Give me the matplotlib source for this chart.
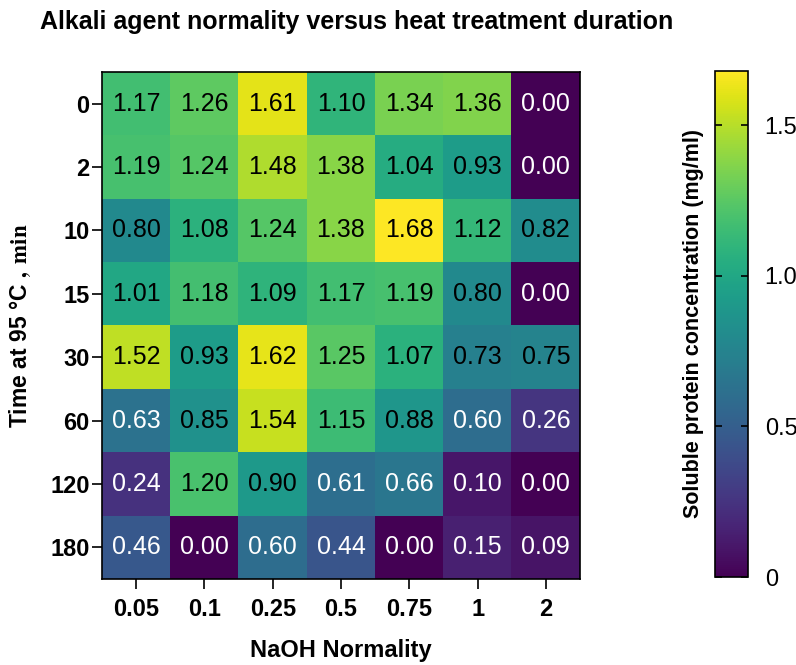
import numpy as np
import matplotlib
matplotlib.use("Agg")
import matplotlib.pyplot as plt

plt.rcParams["font.family"] = ["Liberation Sans", "DejaVu Sans"]
plt.rcParams["mathtext.fontset"] = "stix"

normality = ["0.05", "0.1", "0.25", "0.5", "0.75", "1", "2"]
times = ["0", "2", "10", "15", "30", "60", "120", "180"]

protein = np.array([
    [1.17, 1.26, 1.61, 1.10, 1.34, 1.36, 0.00],
    [1.19, 1.24, 1.48, 1.38, 1.04, 0.93, 0.00],
    [0.80, 1.08, 1.24, 1.38, 1.68, 1.12, 0.82],
    [1.01, 1.18, 1.09, 1.17, 1.19, 0.80, 0.00],
    [1.52, 0.93, 1.62, 1.25, 1.07, 0.73, 0.75],
    [0.63, 0.85, 1.54, 1.15, 0.88, 0.60, 0.26],
    [0.24, 1.20, 0.90, 0.61, 0.66, 0.10, 0.00],
    [0.46, 0.00, 0.60, 0.44, 0.00, 0.15, 0.09],
])

W, H = 796, 665
fig = plt.figure(figsize=(W / 100, H / 100), dpi=100)
ax = fig.add_axes([102 / W, 1 - 579 / H, 478 / W, 507 / H])
cax = fig.add_axes([715 / W, 1 - 577 / H, 33 / W, 506 / H])

im = ax.imshow(protein, cmap="viridis", vmin=0, vmax=protein.max(), aspect="auto")

for i in range(len(times)):
    for j in range(len(normality)):
        v = protein[i, j]
        ax.text(j, i, f"{v:.2f}", ha="center", va="center", fontsize=18,
                color="white" if v < 0.7 else "black")

ax.set_xticks(range(len(normality)))
ax.set_xticklabels(normality, fontsize=17, fontweight="bold")
ax.set_yticks(range(len(times)))
ax.set_yticklabels(times, fontsize=17, fontweight="bold")
ax.tick_params(length=7, width=1.2, pad=2)
ax.tick_params(axis="x", pad=7)
for s in ax.spines.values():
    s.set_linewidth(1.2)

ax.set_xlabel("NaOH Normality", fontsize=17, fontweight="bold", labelpad=13)
ax.set_ylabel("Time at 95 °C $\\mathbf{,\\ min}$", fontsize=16.5, fontweight="bold", labelpad=12)

fig.text(40 / W, 1 - 22 / H, "Alkali agent normality versus heat treatment duration",
         fontsize=18, fontweight="bold", ha="left", va="center")

cb = fig.colorbar(im, cax=cax)
cb.set_ticks([0, 0.5, 1.0, 1.5])
cb.set_ticklabels(["0", "0.5", "1.0", "1.5"])
cax.tick_params(labelsize=17, length=5, width=1.2, direction="in", left=True, right=True, pad=12)
cb.outline.set_linewidth(1.2)
cax.yaxis.set_label_position("left")
cax.set_ylabel("Soluble protein concentration (mg/ml)", fontsize=15.5, fontweight="bold", labelpad=8)

fig.savefig("out.png", dpi=100)
